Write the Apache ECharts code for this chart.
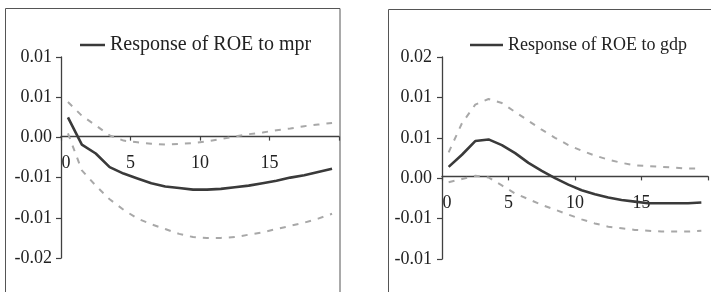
<!DOCTYPE html>
<html><head><meta charset="utf-8">
<script src="https://cdn.jsdelivr.net/npm/echarts@6/dist/echarts.min.js"></script>
<style>html,body{margin:0;padding:0;background:#fff}#c{width:711px;height:292px}</style>
</head><body><div id="c"></div>
<script>
// horizon positions (period midpoints)
const periods = [0.5,1.5,2.5,3.5,4.5,5.5,6.5,7.5,8.5,9.5,10.5,11.5,12.5,13.5,14.5,15.5,16.5,17.5,18.5,19.5];
const xTickLabels = ['0','5','10','15',''];
// Response of ROE to mpr
const mprResp  = [0.0025,-0.0009,-0.002,-0.0037,-0.0045,-0.0051,-0.0057,-0.0061,-0.0063,-0.0065,-0.0065,-0.0064,-0.0062,-0.006,-0.0057,-0.0054,-0.005,-0.0047,-0.0043,-0.0039];
const mprUpper = [0.0044,0.0027,0.0015,0.00025,-0.0004,-0.0006,-0.0008,-0.0009,-0.0008,-0.0007,-0.0005,-0.0002,0.0001,0.0004,0.0006,0.0009,0.0011,0.0014,0.0016,0.0018];
const mprLower = [0.0005,-0.0041,-0.006,-0.0077,-0.009,-0.0101,-0.0108,-0.0114,-0.012,-0.0124,-0.0125,-0.0125,-0.0124,-0.0121,-0.0118,-0.0114,-0.011,-0.0106,-0.0101,-0.0095];
const mprYLabels = ['-0.02','-0.01','-0.01','0.00','0.01','0.01'];
// Response of ROE to gdp
const gdpResp  = [0.0014,0.0029,0.0046,0.0048,0.0041,0.0031,0.0019,0.0009,0.0,-0.0008,-0.0015,-0.002,-0.0024,-0.0027,-0.0029,-0.0031,-0.0031,-0.0031,-0.0031,-0.003];
const gdpUpper = [0.0032,0.0068,0.0091,0.0098,0.0093,0.0082,0.0071,0.006,0.005,0.0041,0.0034,0.0028,0.0023,0.0019,0.0016,0.0015,0.0014,0.0013,0.0012,0.0012];
const gdpLower = [-0.0005,-0.0001,0.0003,0.0001,-0.0009,-0.0019,-0.0026,-0.0033,-0.0039,-0.0045,-0.0051,-0.0056,-0.006,-0.0062,-0.0064,-0.0065,-0.0066,-0.0066,-0.0066,-0.0065];
const gdpYLabels = ['-0.01','-0.01','0.00','0.01','0.01','0.02'];

const nameMpr = 'Response of ROE to mpr';
const nameGdp = 'Response of ROE to gdp';
const FONT = 'Liberation Serif, Times New Roman, serif';
const pair = arr => arr.map((v,i)=>[periods[i], v]);

const chart = echarts.init(document.getElementById('c'));
const axisCol = '#404040';
const H = 292;
const grids = [{left:61, right:372, top:57, bottom:34},{left:442, right:-10, top:57, bottom:33}];
function xAxis(gi){
  return {type:'value', gridIndex:gi, min:0, max:20, interval:5, position:'bottom', offset:0,
    axisLine:{onZero:false, lineStyle:{color:axisCol, width:1.3}},
    axisTick:{show:true, length:4, lineStyle:{color:axisCol, width:1.2}},
    splitLine:{show:false},
    axisLabel:{margin:18, fontFamily:FONT, fontSize:18, color:'#222',
      formatter:(v,i)=> i===0 ? '{z|'+xTickLabels[0]+'}' : (xTickLabels[i]||''),
      rich:{z:{fontFamily:FONT, fontSize:18, color:'#222', padding:[0,0,0,10]}}}};
}
function yAxis(gi, min, max, labels, margin){
  return {type:'value', gridIndex:gi, min:min, max:max, interval:0.005,
    axisLine:{show:true, lineStyle:{color:axisCol, width:1.3}},
    axisTick:{show:true, length:5, lineStyle:{color:axisCol, width:1.2}},
    splitLine:{show:false},
    axisLabel:{margin:margin, fontFamily:FONT, fontSize:18, color:'#222',
      formatter:(v,i)=>labels[i]}};
}
const solid = {color:'#3a3a3a', width:2.6};
const dash = {color:'#a8a8a8', width:2, type:[6,7]};
function ser(name, data, xi, style, z){
  return {name:name, type:'line', xAxisIndex:xi, yAxisIndex:xi, data:pair(data),
    showSymbol:false, symbol:'none', lineStyle:style, itemStyle:{color:style.color}, z:z, animation:false, silent:true};
}
chart.setOption({
  animation:false,
  grid:grids,
  xAxis:[xAxis(0), xAxis(1)],
  yAxis:[yAxis(0,-0.015,0.01,mprYLabels,9), yAxis(1,-0.01,0.015,gdpYLabels,10)],
  legend:[
    {data:[nameMpr], left:75, top:30, icon:'rect', itemWidth:25, itemHeight:2.5, itemGap:0,
      textStyle:{fontFamily:FONT, fontSize:20, color:'#222'}, selectedMode:false},
    {data:[nameGdp], left:465, top:31, icon:'rect', itemWidth:33, itemHeight:2.5, itemGap:0,
      textStyle:{fontFamily:FONT, fontSize:18, color:'#222'}, selectedMode:false}
  ],
  graphic:[
    {type:'rect', shape:{x:5.5, y:8.5, width:334.5, height:320}, style:{fill:null, stroke:'#555', lineWidth:1}, z:-1},
    {type:'rect', shape:{x:388.5, y:9.5, width:400, height:320}, style:{fill:null, stroke:'#555', lineWidth:1}, z:-1}
  ],
  series:[
    ser('upperMpr', mprUpper, 0, dash, 2),
    ser('lowerMpr', mprLower, 0, dash, 2),
    ser(nameMpr, mprResp, 0, solid, 3),
    ser('upperGdp', gdpUpper, 1, dash, 2),
    ser('lowerGdp', gdpLower, 1, dash, 2),
    ser(nameGdp, gdpResp, 1, solid, 3)
  ]
});
// move each x axis (line, ticks, labels) up to the zero line of its y axis
const offs = [0,1].map(i => {
  const y0 = chart.convertToPixel({yAxisIndex:i}, 0);
  return -((H - grids[i].bottom) - y0);
});
chart.setOption({xAxis:[{offset:offs[0]},{offset:offs[1]}]});
</script></body></html>
